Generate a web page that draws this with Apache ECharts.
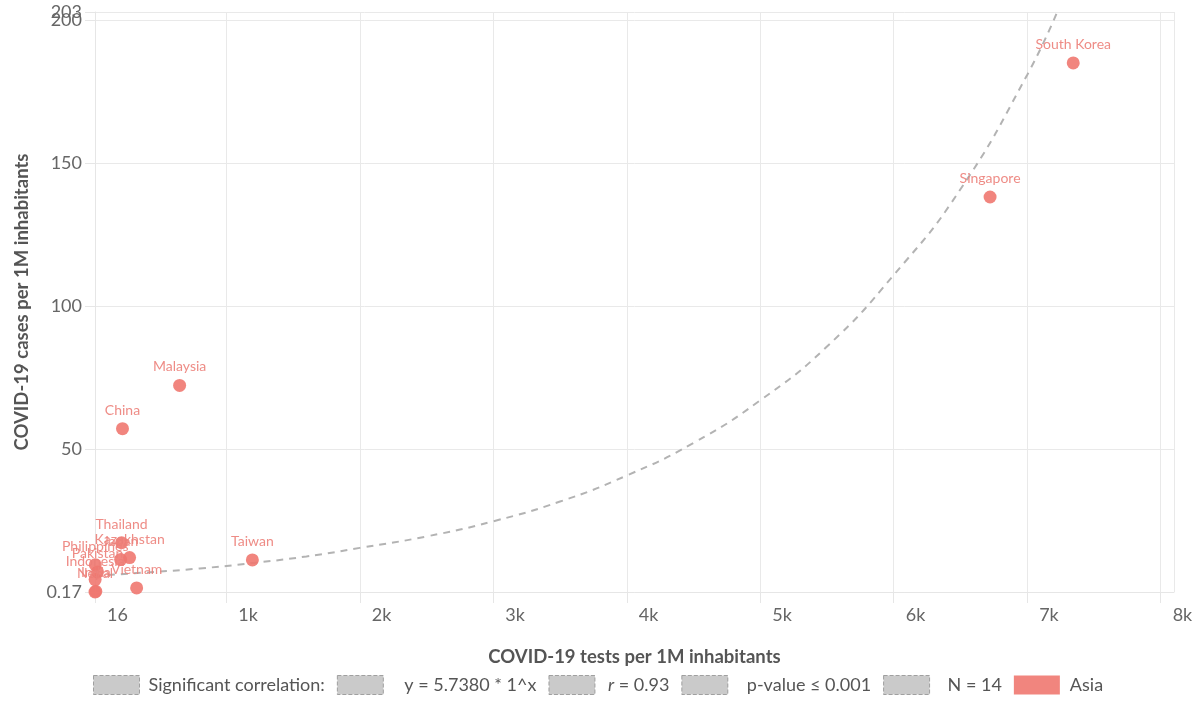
<!DOCTYPE html>
<html>
<head>
<meta charset="utf-8">
<title>COVID-19 tests vs cases - Asia</title>
<script src="https://cdn.jsdelivr.net/npm/echarts@6/dist/echarts.min.js"></script>
<style>
  html, body { margin: 0; padding: 0; background: #fff; }
  #chart { width: 1200px; height: 721px; }
</style>
</head>
<body>
<div id="chart"></div>
<script>
// values
const countries = ['South Korea', 'Singapore', 'Malaysia', 'China', 'Taiwan', 'Thailand', 'Kazakhstan',
  'Japan', 'Philippines', 'Pakistan', 'Indonesia', 'India', 'Nepal', 'Vietnam'];
const testsPerM = [7345, 6722, 650, 222, 1195, 215, 275, 208, 18, 35, 17, 22, 16, 328];
const casesPerM = [185.2, 138.3, 72.4, 57.3, 11.4, 17.4, 12.2, 11.5, 9.7, 7.2, 4.5, 0.4, 0.17, 1.6];

// regression curve
const trendX = [16, 400, 800, 1200, 1600, 2000, 2500, 3000, 3500, 4000, 4500, 5000, 5500, 6000, 6500, 7000, 7225];
const trendY = [5.8, 7.0, 8.4, 10.3, 12.6, 15.6, 19.6, 24.9, 31.8, 40.9, 52.3, 67.2, 86, 111, 141, 181, 203];

const legendNames = ['Significant correlation:', 'y = 5.7380 * 1^x', 'r = 0.93', 'p-value ≤ 0.001', 'N = 14', 'Asia'];
const legendTextPad = [4, 16, 8, 14, 13, 5];

const xMin = 16, xMax = 8100;
const yMin = 0.17, yMax = 203;

const salmon = '#F07870';
const fontFamily = 'Lato, "Noto Sans", sans-serif';

const chart = echarts.init(document.getElementById('chart'));

const scatterData = countries.map((c, i) => [testsPerM[i], casesPerM[i], c]);
const trendData = trendX.map((x, i) => [x, trendY[i]]);

const dashedIcon = { color: '#bdbdbd', borderColor: '#8f8f8f', borderWidth: 1, borderType: 'dashed' };

const legendData = legendNames.map((n, i) => ({
  name: n,
  icon: 'rect',
  itemStyle: n === 'Asia' ? { color: salmon, borderWidth: 0 } : dashedIcon,
  textStyle: { padding: [0, 0, 0, legendTextPad[i]] }
}));

// empty series just so the legend has its entries
const dummySeries = legendNames.filter(n => n !== 'Asia').map(n => ({
  name: n,
  type: 'scatter',
  data: [],
  itemStyle: { color: '#bdbdbd' }
}));

const yLabelStyle = { fontSize: 18, color: '#666', margin: 13 };

const option = {
  animation: false,
  textStyle: { fontFamily: fontFamily },
  grid: { left: 95, right: 26, top: 12, bottom: 129 },
  legend: {
    left: 88,
    top: 670,
    itemWidth: 46,
    itemHeight: 19,
    itemGap: 12,
    data: legendData,
    formatter: name => name === 'r = 0.93' ? '{i|r} = 0.93{s|}' : name,
    textStyle: {
      fontSize: 18,
      color: '#555',
      fontFamily: fontFamily,
      rich: {
        i: { fontStyle: 'italic', fontSize: 18, color: '#555', fontFamily: fontFamily },
        s: { width: 9 }
      }
    }
  },
  xAxis: {
    type: 'value',
    min: xMin,
    max: xMax,
    splitNumber: 8,
    minInterval: 1000,
    maxInterval: 1000,
    name: 'COVID-19 tests per 1M inhabitants',
    nameLocation: 'middle',
    nameGap: 56,
    nameTextStyle: { fontSize: 18.5, fontWeight: 'bold', color: '#555' },
    axisLine: { lineStyle: { color: '#e6e6e6' } },
    axisTick: { show: true, length: 11, lineStyle: { color: '#e6e6e6' } },
    splitLine: { lineStyle: { color: '#e9e9e9' } },
    axisLabel: {
      fontSize: 18,
      color: '#666',
      align: 'left',
      margin: 14,
      padding: [0, 0, 0, 12],
      showMaxLabel: false,
      formatter: v => v >= 1000 ? (v / 1000) + 'k' : String(v)
    }
  },
  yAxis: [
    {
      type: 'value',
      position: 'left',
      min: yMin,
      max: yMax,
      name: 'COVID-19 cases per 1M inhabitants',
      nameLocation: 'middle',
      nameGap: 63,
      nameTextStyle: { fontSize: 18.5, fontWeight: 'bold', color: '#555' },
      axisLine: { show: true, lineStyle: { color: '#e6e6e6' } },
      axisTick: { show: true, length: 10, lineStyle: { color: '#e6e6e6' } },
      splitLine: { lineStyle: { color: '#e9e9e9' } },
      axisLabel: Object.assign({ showMinLabel: true, showMaxLabel: false }, yLabelStyle)
    },
    {
      // same scale again, only to print the max value on top of "200"
      type: 'value',
      position: 'left',
      offset: 0,
      min: yMin,
      max: yMax,
      axisLine: { show: false },
      axisTick: { show: true, length: 10, lineStyle: { color: '#e6e6e6' } },
      splitLine: { show: false },
      axisLabel: Object.assign({
        showMinLabel: false,
        showMaxLabel: true,
        formatter: v => v === yMax ? String(v) : ''
      }, yLabelStyle)
    }
  ],
  series: [
    {
      name: 'trend',
      type: 'line',
      data: trendData,
      smooth: true,
      symbol: 'none',
      silent: true,
      clip: true,
      lineStyle: { color: '#b3b3b3', width: 2, type: [7, 6] },
      z: 1
    },
    ...dummySeries,
    {
      name: 'Asia',
      type: 'scatter',
      data: scatterData,
      symbolSize: 13,
      itemStyle: { color: salmon, opacity: 0.9 },
      label: {
        show: true,
        position: 'top',
        distance: 5,
        fontSize: 14,
        color: '#EC8079',
        formatter: p => p.data[2]
      },
      z: 3
    }
  ]
};

chart.setOption(option);
</script>
</body>
</html>
